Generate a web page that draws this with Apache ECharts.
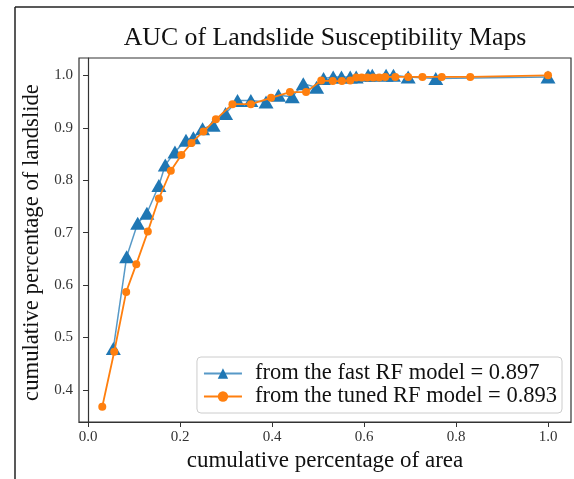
<!DOCTYPE html>
<html>
<head>
<meta charset="utf-8">
<script src="https://cdn.jsdelivr.net/npm/echarts@6/dist/echarts.min.js"></script>
<style>
  html, body { margin: 0; padding: 0; background: #fff; }
  #auc { width: 574px; height: 479px; }
</style>
</head>
<body>
<div id="auc"></div>
<script>
// fast RF model: cumulative area vs cumulative landslide
var fastArea = [0.055, 0.084, 0.108, 0.128, 0.154, 0.168, 0.189, 0.213, 0.229, 0.249, 0.272, 0.299,
  0.325, 0.354, 0.387, 0.414, 0.444, 0.468, 0.497, 0.512, 0.533, 0.551, 0.570, 0.583, 0.609,
  0.618, 0.648, 0.664, 0.696, 0.756, 1.0];
var fastSlide = [0.479, 0.654, 0.718, 0.737, 0.790, 0.829, 0.854, 0.876, 0.881, 0.898, 0.905, 0.927,
  0.952, 0.952, 0.949, 0.962, 0.959, 0.984, 0.977, 0.994, 0.997, 0.997, 0.997, 0.997, 1.0,
  1.0, 1.0, 1.0, 0.997, 0.994, 0.997];

// tuned RF model
var tunedArea = [0.031, 0.057, 0.083, 0.105, 0.130, 0.154, 0.180, 0.203, 0.225, 0.251, 0.278, 0.314,
  0.354, 0.398, 0.439, 0.474, 0.507, 0.532, 0.552, 0.570, 0.583, 0.595, 0.607, 0.620, 0.633,
  0.646, 0.668, 0.696, 0.727, 0.769, 0.831, 1.0];
var tunedSlide = [0.368, 0.473, 0.587, 0.640, 0.702, 0.765, 0.818, 0.848, 0.871, 0.893, 0.916, 0.945,
  0.945, 0.957, 0.968, 0.968, 0.990, 0.989, 0.989, 0.990, 0.996, 0.996, 0.996, 0.996, 0.996,
  0.997, 0.997, 0.997, 0.997, 0.997, 0.997, 1.0];

var xTicks = [0.0, 0.2, 0.4, 0.6, 0.8, 1.0];
var yTicks = [0.4, 0.5, 0.6, 0.7, 0.8, 0.9, 1.0];

var fastName = 'from the fast RF model = 0.897';
var tunedName = 'from the tuned RF model = 0.893';

function zip(xs, ys) {
  return xs.map(function (x, i) { return [x, ys[i]]; });
}

var serif = 'Liberation Serif';
var chart = echarts.init(document.getElementById('auc'));
chart.setOption({
  animation: false,
  textStyle: { fontFamily: serif },
  title: {
    text: 'AUC of Landslide Susceptibility Maps',
    left: 320, top: 20, textAlign: 'center',
    textStyle: { fontFamily: serif, fontSize: 25.8, fontWeight: 'normal', color: '#111' }
  },
  grid: {
    left: 79, top: 58, right: 3, bottom: 57,
    show: true, borderColor: '#333', borderWidth: 1.2
  },
  legend: {
    orient: 'vertical',
    right: 12, bottom: 66,
    itemWidth: 38, itemHeight: 13, itemGap: 0,
    padding: [5, 5, 5, 6],
    borderColor: '#ccc', borderWidth: 1, borderRadius: 4,
    backgroundColor: 'rgba(255,255,255,0.85)',
    textStyle: { fontFamily: serif, fontSize: 22.5, color: '#111', padding: [0, 0, 0, 8] },
    data: [fastName, tunedName]
  },
  xAxis: {
    type: 'value', min: -0.0196, max: 1.05,
    name: 'cumulative percentage of area',
    nameLocation: 'middle', nameGap: 26,
    nameTextStyle: { fontFamily: serif, fontSize: 23, color: '#111' },
    axisLine: { show: true, lineStyle: { color: '#333', width: 1.2 } },
    axisTick: { show: true, length: 5, customValues: xTicks, lineStyle: { color: '#333' } },
    axisLabel: {
      customValues: xTicks, fontFamily: serif, fontSize: 15, color: '#333', margin: 8,
      formatter: function (v) { return v.toFixed(1); }
    },
    splitLine: { show: false }
  },
  yAxis: {
    type: 'value', min: 0.339, max: 1.033,
    name: 'cumulative percentage of landslide',
    nameLocation: 'middle', nameGap: 31,
    nameTextStyle: { fontFamily: serif, fontSize: 22.7, color: '#111', padding: [0, 5, 0, 0] },
    axisLine: { show: true, lineStyle: { color: '#333', width: 1.2 } },
    axisTick: { show: true, length: 5, customValues: yTicks, lineStyle: { color: '#333' } },
    axisLabel: {
      customValues: yTicks, fontFamily: serif, fontSize: 15, color: '#333', margin: 6,
      formatter: function (v) { return v.toFixed(1); }
    },
    splitLine: { show: false }
  },
  graphic: [
    { type: 'line', shape: { x1: 15, y1: 7, x2: 15, y2: 479 }, style: { stroke: '#222', lineWidth: 1.5 } },
    { type: 'line', shape: { x1: 15, y1: 7, x2: 574, y2: 7 }, style: { stroke: '#222', lineWidth: 1.5 } }
  ],
  series: [
    {
      name: fastName, type: 'line',
      data: zip(fastArea, fastSlide),
      symbol: 'triangle', symbolSize: [15, 13],
      itemStyle: { color: '#1f77b4' },
      lineStyle: { color: '#1f77b4', width: 1.5, opacity: 0.75 },
      z: 2
    },
    {
      name: tunedName, type: 'line',
      data: zip(tunedArea, tunedSlide),
      symbol: 'circle', symbolSize: 8,
      itemStyle: { color: '#ff7f0e' },
      lineStyle: { color: '#ff7f0e', width: 1.8 },
      z: 3
    }
  ]
});
</script>
</body>
</html>
